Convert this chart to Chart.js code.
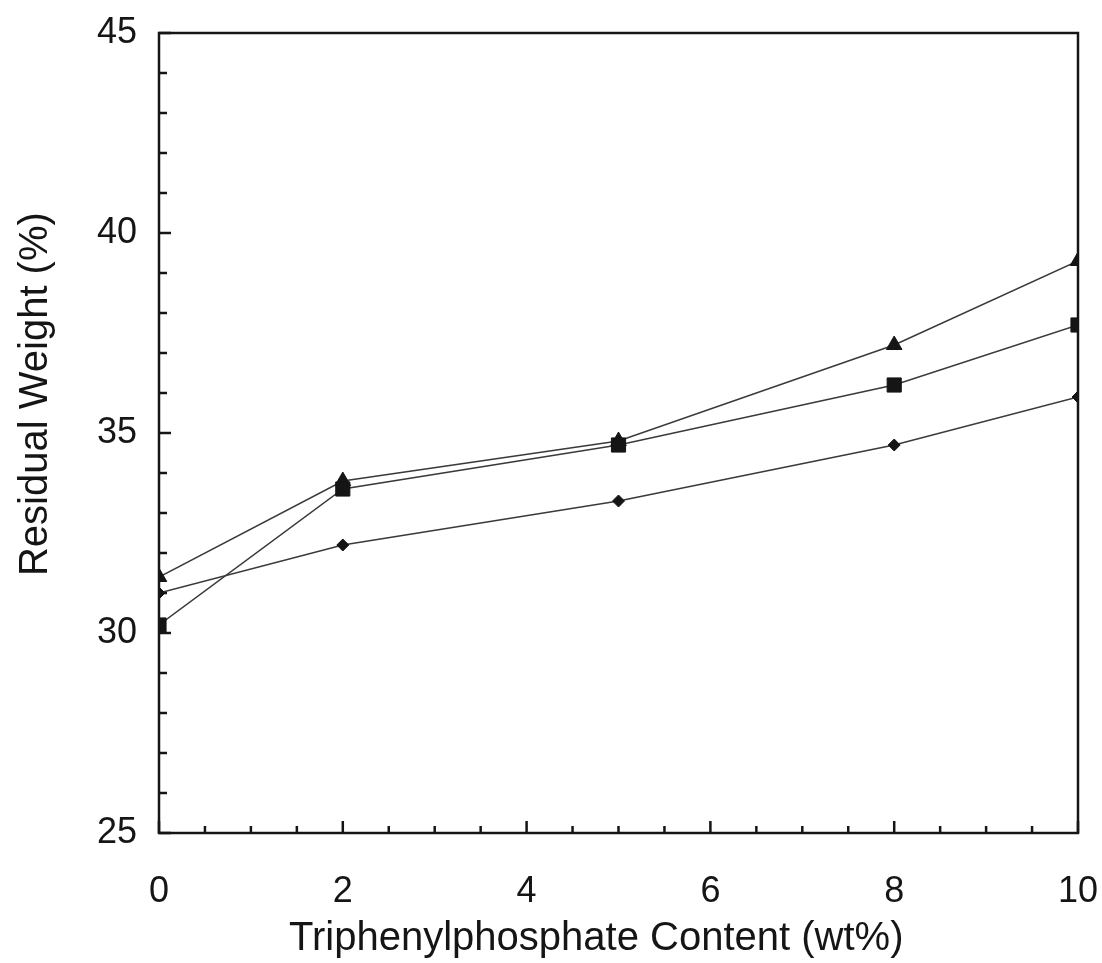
<!DOCTYPE html>
<html>
<head>
<meta charset="utf-8">
<script src="https://cdn.jsdelivr.net/npm/chart.js@4.4.1/dist/chart.umd.min.js"></script>
<style>
  html, body { margin: 0; padding: 0; background: #fff; }
  #wrap { width: 1102px; height: 963px; }
</style>
</head>
<body>
<div id="wrap"><canvas id="chart" width="1102" height="963"></canvas></div>
<script>
// data
const content = [0, 2, 5, 8, 10];
const triangleVals = [31.4, 33.8, 34.8, 37.2, 39.3];
const squareVals = [30.2, 33.6, 34.7, 36.2, 37.7];
const diamondVals = [31.0, 32.2, 33.3, 34.7, 35.9];

// axis ticks
const xMajor = [0, 2, 4, 6, 8, 10];
const xMinor = [0.5, 1, 1.5, 2.5, 3, 3.5, 4.5, 5, 5.5, 6.5, 7, 7.5, 8.5, 9, 9.5];
const yMajor = [25, 30, 35, 40, 45];
const yMinor = [26, 27, 28, 29, 31, 32, 33, 34, 36, 37, 38, 39, 41, 42, 43, 44];

const ink = "#151515";
const font = "'Liberation Sans', Arial, sans-serif";

function toPoints(vals) {
  return content.map(function (x, i) { return { x: x, y: vals[i] }; });
}

function series(label, vals, style, radius) {
  return {
    label: label,
    data: toPoints(vals),
    showLine: true,
    borderColor: "#3a3a3a",
    borderWidth: 1.5,
    pointStyle: style,
    pointRadius: radius,
    pointBackgroundColor: ink,
    pointBorderColor: ink,
    pointBorderWidth: 1,
  };
}

// frame + inward ticks
const framePlugin = {
  id: "frame",
  afterDraw: function (chart) {
    const ctx = chart.ctx;
    const a = chart.chartArea;
    const xs = chart.scales.x;
    const ys = chart.scales.y;
    ctx.save();
    ctx.strokeStyle = ink;
    ctx.lineWidth = 2.5;
    ctx.strokeRect(a.left, a.top, a.right - a.left, a.bottom - a.top);

    ctx.beginPath();
    xMajor.forEach(function (v) {
      const px = xs.getPixelForValue(v);
      ctx.moveTo(px, a.bottom);
      ctx.lineTo(px, a.bottom - 12);
    });
    xMinor.forEach(function (v) {
      const px = xs.getPixelForValue(v);
      ctx.moveTo(px, a.bottom);
      ctx.lineTo(px, a.bottom - 7);
    });
    yMajor.forEach(function (v) {
      const py = ys.getPixelForValue(v);
      ctx.moveTo(a.left, py);
      ctx.lineTo(a.left + 12, py);
    });
    yMinor.forEach(function (v) {
      const py = ys.getPixelForValue(v);
      ctx.moveTo(a.left, py);
      ctx.lineTo(a.left + 8, py);
    });
    ctx.stroke();
    ctx.restore();
  },
};

new Chart(document.getElementById("chart"), {
  type: "scatter",
  data: {
    datasets: [
      series("Square", squareVals, "rect", 10),
      series("Triangle", triangleVals, "triangle", 9),
      series("Diamond", diamondVals, "rectRot", 6),
    ],
  },
  options: {
    responsive: false,
    animation: false,
    layout: { padding: { left: 0, right: 24, top: 33, bottom: 0 } },
    plugins: {
      legend: { display: false },
      tooltip: { enabled: false },
    },
    scales: {
      x: {
        type: "linear",
        min: 0,
        max: 10,
        afterFit: function (scale) {
          scale.height = 130;
          scale.paddingLeft = 0;
          scale.paddingRight = 0;
        },
        grid: { display: false, drawTicks: false },
        border: { display: false },
        ticks: {
          stepSize: 2,
          padding: 37,
          color: ink,
          font: { family: font, size: 36 },
        },
        title: {
          display: true,
          text: "Triphenylphosphate Content (wt%)    ",
          color: ink,
          font: { family: font, size: 40 },
          padding: { top: 0, bottom: 0 },
        },
      },
      y: {
        min: 25,
        max: 45,
        afterFit: function (scale) {
          scale.width = 159;
          scale.paddingTop = 0;
          scale.paddingBottom = 0;
        },
        grid: { display: false, drawTicks: false },
        border: { display: false },
        ticks: {
          stepSize: 5,
          padding: 22,
          color: ink,
          font: { family: font, size: 36 },
        },
        title: {
          display: true,
          text: "       Residual Weight (%)",
          color: ink,
          font: { family: font, size: 40 },
          padding: { top: 12, bottom: 0 },
        },
      },
    },
  },
  plugins: [framePlugin],
});
</script>
</body>
</html>
